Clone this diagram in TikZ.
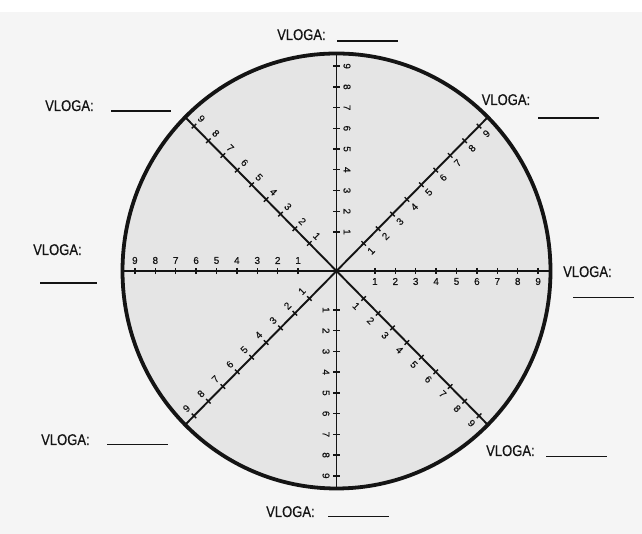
\documentclass[tikz,border=0pt]{standalone}
\usepackage{fontspec}
\setmainfont{Liberation Sans}
\newfontfamily\vlogafont[FakeStretch=0.84,FakeBold=0.6]{Liberation Sans}
\newfontfamily\numfont[FakeBold=0.4]{Liberation Sans}
\usetikzlibrary{calc}
\begin{document}
\begin{tikzpicture}[x=1pt,y=1pt,
  rim/.style={line width=3.8pt, draw=black!92},
  axisline/.style={line width=1.9pt, draw=black!92},
  tickmark/.style={line width=1.4pt, draw=black!92},
  numlabel/.style={font=\numfont\fontsize{10}{11}\selectfont, inner sep=0pt, text=black!92},
  vloga/.style={font=\vlogafont\fontsize{15.5}{16}\selectfont, inner sep=0pt, anchor=base west, text=black!92},
  blank/.style={line width=1.5pt, draw=black!92}]
\useasboundingbox (0,0) rectangle (642,534);
\fill[gray!8] (0,0) rectangle (642,534);
\fill[white] (0,522) rectangle (642,534);

\coordinate (C) at (336.5,263);
\fill[gray!20] (C) ellipse [x radius=214, y radius=217.5];

% axes and diagonals
\foreach \a in {0,45,90,135,180,225,270,315}{
  \path (C) ++({214*cos(\a)},{217.5*sin(\a)}) coordinate (E\a);
  \draw[axisline] (C) -- (E\a);
}

% ticks and numbers
\foreach \a/\r/\o in {0/0/-90, 180/0/90, 45/45/-45, 225/45/135, 315/-45/-135, 135/-45/45, 270/-90/180, 90/-90/0}{
  \foreach \k in {1,...,9}{
    \pgfmathsetmacro\d{18+20.4*\k}
    \path (C) ++({\d*cos(\a)},{1.016*\d*sin(\a)}) coordinate (T\a-\k);
    \draw[tickmark] (T\a-\k) ++(\a+90:3.2) -- ++(\a-90:6.4);
    \node[numlabel, rotate=\r] (N\a-\k) at ($(T\a-\k)+(\o:10.5)$) {\k};
  }
}

\draw[rim] (C) ellipse [x radius=214, y radius=217.5];

% role labels
\node[vloga] (vtop) at (277,494) {VLOGA:};
\draw[blank] (337,493) -- (398,493);
\node[vloga] (vul) at (45,423) {VLOGA:};
\draw[blank] (111,423) -- (171,423);
\node[vloga] (vur) at (481.5,429) {VLOGA:};
\draw[blank] (538,416) -- (599,416);
\node[vloga] (vl) at (33,279) {VLOGA:};
\draw[blank] (40,251) -- (97,251);
\node[vloga] (vr) at (563,257) {VLOGA:};
\draw[blank] (573,236.5) -- (634,236.5);
\node[vloga] (vll) at (41,89) {VLOGA:};
\draw[blank] (107,89.5) -- (168,89.5);
\node[vloga] (vlr) at (486,78) {VLOGA:};
\draw[blank] (546,77.5) -- (607,77.5);
\node[vloga] (vbot) at (266,17) {VLOGA:};
\draw[blank] (328,17.5) -- (389,17.5);
\end{tikzpicture}
\end{document}
